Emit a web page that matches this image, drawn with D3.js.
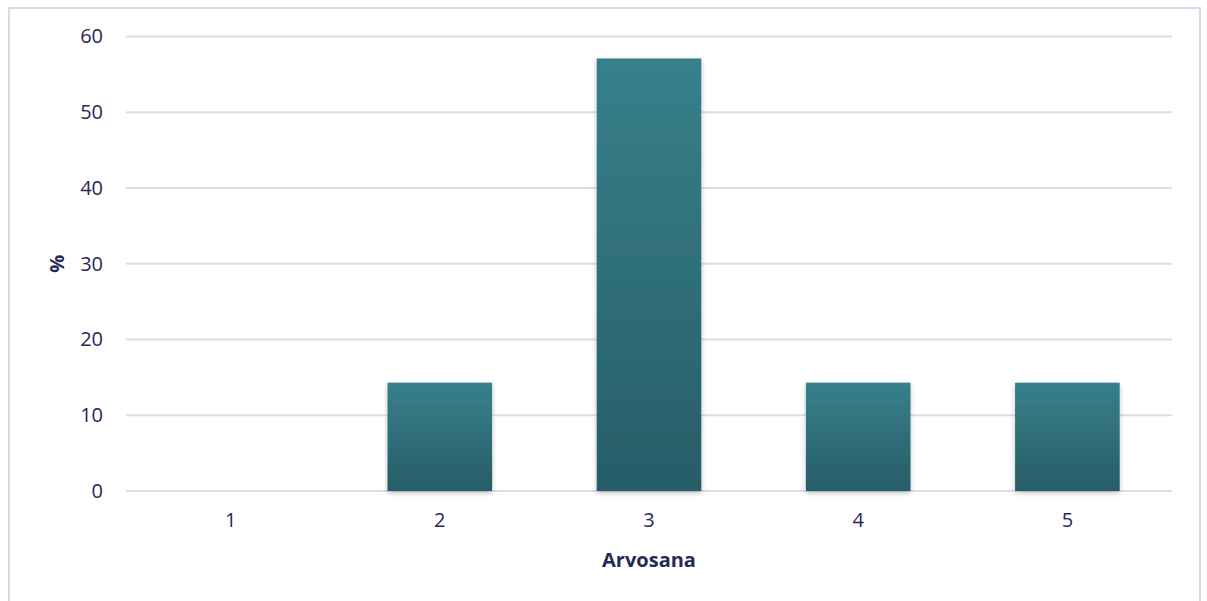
<!DOCTYPE html>
<html>
<head>
<meta charset="utf-8">
<script src="https://cdn.jsdelivr.net/npm/d3@7"></script>
<style>
	body { margin: 0; background: white; }
	#outer { width: 1207px; height: 601px; }
</style>
</head>
<body>
<div id="outer"></div>
<script>
	////////// Data //////////
	const categories = ['1', '2', '3', '4', '5'];
	const percentValues = [0, 14.3, 57.1, 14.3, 14.3];
	const yTicks = [0, 10, 20, 30, 40, 50, 60];
	const xTitle = 'Arvosana';
	const yTitle = '%';

	////////// Defs //////////
	const width = 1207, height = 601;
	const margin = {top: 36.5, left: 126, right: 35, bottom: 110};
	const textColor = '#262a56';
	const gridColor = '#dcdcef';
	const labelFont = '20px "Open Sans"';
	const titleFont = 'bold 20px "Open Sans"';

	const svg = d3.select('#outer').append('svg')
		.attr('width', width)
		.attr('height', height);

	const defs = svg.append('defs');
	const grad = defs.append('linearGradient')
		.attr('id', 'barGrad')
		.attr('x1', 0).attr('y1', 0).attr('x2', 0).attr('y2', 1);
	grad.append('stop').attr('offset', '0%').attr('stop-color', '#37808b');
	grad.append('stop').attr('offset', '100%').attr('stop-color', '#275d67');

	const shadow = defs.append('filter')
		.attr('id', 'barShadow')
		.attr('x', '-20%').attr('y', '-20%').attr('width', '140%').attr('height', '140%');
	shadow.append('feDropShadow')
		.attr('dx', 0).attr('dy', 2)
		.attr('stdDeviation', 2.5)
		.attr('flood-color', '#000')
		.attr('flood-opacity', 0.25);

	// outer frame
	svg.append('rect')
		.attr('x', 9).attr('y', 8)
		.attr('width', 1191).attr('height', 620)
		.attr('fill', 'none')
		.attr('stroke', '#d9d9ee')
		.attr('stroke-width', 2);

	const x = d3.scaleBand()
		.domain(categories)
		.range([margin.left, width - margin.right])
		.paddingInner(0.5)
		.paddingOuter(0.25);

	const y = d3.scaleLinear()
		.domain([0, 60])
		.range([height - margin.bottom, margin.top]);

	// grid
	svg.append('g')
		.selectAll('line')
		.data(yTicks)
		.join('line')
		.attr('x1', margin.left)
		.attr('x2', width - margin.right)
		.attr('y1', d => y(d))
		.attr('y2', d => y(d))
		.attr('stroke', gridColor)
		.attr('stroke-width', 2);

	// y tick labels
	const yAxis = svg.append('g')
		.attr('transform', `translate(${margin.left - 23},0)`)
		.call(d3.axisLeft(y).tickValues(yTicks).tickSize(0).tickPadding(0));
	yAxis.select('.domain').remove();
	yAxis.selectAll('text')
		.attr('fill', textColor)
		.style('font', labelFont);

	// x tick labels
	const xAxis = svg.append('g')
		.attr('transform', `translate(0,${y(0) + 22})`)
		.call(d3.axisBottom(x).tickSize(0).tickPadding(0));
	xAxis.select('.domain').remove();
	xAxis.selectAll('text')
		.attr('fill', textColor)
		.style('font', labelFont);

	// bars
	svg.append('g')
		.selectAll('rect')
		.data(percentValues.map((v, i) => ({cat: categories[i], v})).filter(d => d.v > 0))
		.join('rect')
		.attr('x', d => x(d.cat))
		.attr('width', x.bandwidth())
		.attr('y', d => y(d.v))
		.attr('height', d => y(0) - y(d.v))
		.attr('fill', 'url(#barGrad)')
		.attr('filter', 'url(#barShadow)');

	// titles
	svg.append('text')
		.attr('x', (margin.left + width - margin.right) / 2)
		.attr('y', 567)
		.attr('text-anchor', 'middle')
		.attr('fill', textColor)
		.style('font', titleFont)
		.text(xTitle);

	svg.append('text')
		.attr('transform', `translate(64,${y(30)}) rotate(-90)`)
		.attr('text-anchor', 'middle')
		.attr('fill', textColor)
		.style('font', titleFont)
		.text(yTitle);
</script>
</body>
</html>
